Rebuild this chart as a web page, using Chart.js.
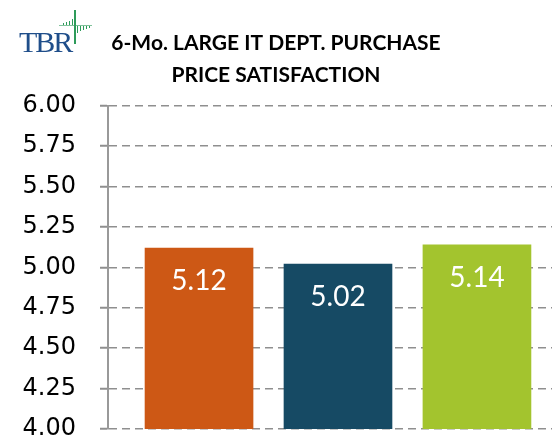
<!DOCTYPE html>
<html lang="en">
<head>
<meta charset="utf-8">
<title>6-Mo. Large IT Dept. Purchase Price Satisfaction</title>
<script src="https://cdn.jsdelivr.net/npm/chart.js@4/dist/chart.umd.min.js"></script>
<style>
  body { margin: 0; background: #fff; }
  .wrap { position: relative; width: 552px; height: 441px; overflow: hidden; }
  .logo { position: absolute; left: 19px; top: 27px; font-family: "Liberation Serif", "DejaVu Serif", serif;
          font-size: 30px; letter-spacing: -2px; color: #1f4e8a; line-height: 30px; }
  .mark { position: absolute; background: #2e9b5a; }
</style>
</head>
<body>
<div class="wrap">
  <canvas id="chart" width="552" height="441"></canvas>
  <div class="logo">TBR</div>
  <div class="mark" style="left:74px;top:10px;width:1.5px;height:34px"></div>
  <div class="mark" style="left:59px;top:25px;width:33px;height:1px;opacity:.6"></div>
  <div class="mark" style="left:63px;top:23px;width:1px;height:2px"></div>
  <div class="mark" style="left:66px;top:22px;width:1px;height:3px"></div>
  <div class="mark" style="left:69px;top:21px;width:1px;height:4px"></div>
  <div class="mark" style="left:72px;top:19px;width:1px;height:6px"></div>
  <div class="mark" style="left:77px;top:26px;width:1px;height:7px"></div>
  <div class="mark" style="left:80px;top:26px;width:1px;height:5px"></div>
  <div class="mark" style="left:83px;top:26px;width:1px;height:4px"></div>
  <div class="mark" style="left:86px;top:26px;width:1px;height:3px"></div>
  <div class="mark" style="left:89px;top:26px;width:1px;height:2px"></div>
</div>

<script>
// data
var periods = ['Period 1', 'Period 2', 'Period 3'];
var satisfaction = [5.12, 5.02, 5.14];
var barColors = ['#cd5815', '#164a64', '#a3c42e'];
var titleLines = ['6-Mo. LARGE IT DEPT. PURCHASE', 'PRICE SATISFACTION'];

// white value labels inside the bars
var valueLabels = {
  id: 'valueLabels',
  afterDatasetsDraw: function(chart) {
    var ctx = chart.ctx;
    var meta = chart.getDatasetMeta(0);
    ctx.save();
    ctx.fillStyle = '#fff';
    ctx.font = '28px Lato';
    ctx.textAlign = 'center';
    ctx.textBaseline = 'alphabetic';
    meta.data.forEach(function(bar, i) {
      ctx.fillText(satisfaction[i].toFixed(2), bar.x, bar.y + 42);
    });
    ctx.restore();
  }
};

var config = {
  type: 'bar',
  data: {
    datasets: [{
      label: 'Price satisfaction',
      data: periods.map(function(p, i) { return { x: i, y: satisfaction[i] }; }),
      backgroundColor: barColors,
      barThickness: 108
    }]
  },
  options: {
    responsive: false,
    animation: false,
    layout: { padding: { left: 0, right: 0, top: 0, bottom: 12 } },
    plugins: {
      legend: { display: false },
      tooltip: { enabled: false },
      title: {
        display: true,
        text: titleLines,
        color: '#000',
        font: { family: 'Lato', weight: 'bold', size: 21, lineHeight: 1.52 },
        padding: { top: 27, bottom: 15 }
      }
    },
    scales: {
      x: {
        type: 'linear',
        min: -0.655,
        max: 2.54,
        offset: false,
        display: false,
        grid: { display: false, offset: false }
      },
      y: {
        min: 4,
        max: 6,
        afterFit: function(scale) {
          scale.width = 108;
          scale.paddingTop = 0;
          scale.paddingBottom = 0;
        },
        ticks: {
          stepSize: 0.25,
          padding: 24,
          color: '#000',
          font: { family: 'DejaVu Sans', size: 24 },
          callback: function(v) { return v.toFixed(2); }
        },
        grid: {
          color: '#8f8f8f',
          lineWidth: 1.5,
          tickLength: 8,
          tickColor: '#8f8f8f',
          tickWidth: 2,
          tickBorderDash: []
        },
        border: { display: true, color: '#999', width: 2, dash: [8, 5] }
      }
    }
  },
  plugins: [valueLabels]
};

window.onload = function() {
  var ctx = document.getElementById('chart').getContext('2d');
  window.myBar = new Chart(ctx, config);
};
</script>
</body>
</html>
